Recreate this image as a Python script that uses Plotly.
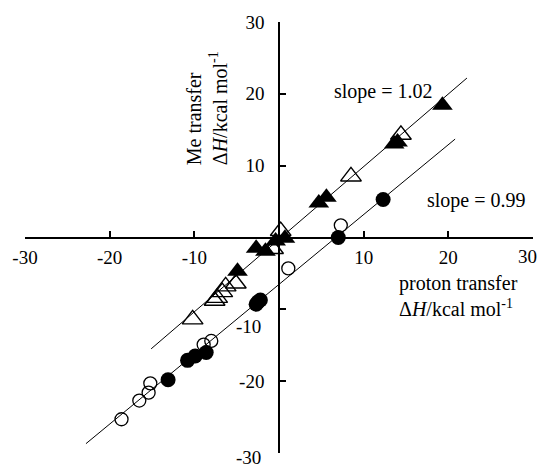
import plotly.graph_objects as go

# ---- data ----
# filled triangles
tri_fill_x = [19.3, 14.0, 13.6, 5.6, 4.7, 0.7, -0.4, -2.7, -1.6, -4.9]
tri_fill_y = [18.4, 13.3, 13.0, 5.6, 4.8, -0.1, -0.5, -1.5, -1.9, -4.7]
# open triangles
tri_open_x = [14.4, 8.5, 0.2, -0.7, -5.1, -6.3, -6.7, -7.3, -7.6, -10.2]
tri_open_y = [14.3, 8.5, 0.9, -1.6, -6.4, -6.8, -7.6, -8.4, -8.8, -11.4]
# filled circles
cir_fill_x = [12.3, 7.0, -2.2, -2.5, -2.7, -8.6, -9.9, -10.8, -13.1]
cir_fill_y = [5.3, 0.0, -8.7, -9.0, -9.3, -16.0, -16.5, -17.1, -19.8]
# open circles
cir_open_x = [7.3, 1.1, -8.0, -8.9, -15.2, -15.4, -16.5, -18.6]
cir_open_y = [1.7, -4.3, -14.4, -14.9, -20.3, -21.6, -22.7, -25.3]
# fitted lines (end points)
fit_upper_x = [-15.1, 22.2]
fit_upper_y = [-15.5, 22.2]
fit_lower_x = [-22.8, 20.8]
fit_lower_y = [-28.7, 13.7]
slope_labels = ["slope = 1.02", "slope = 0.99"]

tick_vals = [-30, -20, -10, 10, 20, 30]
x_tick_text = ["-30", "-20", "-10", "10", "20", " "]
y_tick_text = [" ", "-20", " ", "10", "20", "30"]

FONT = "Liberation Serif"
TICK_SIZE = 19
TEXT_SIZE = 20

fig = go.Figure()
fig.add_trace(go.Scatter(x=fit_upper_x, y=fit_upper_y, mode="lines",
                         line=dict(color="black", width=1)))
fig.add_trace(go.Scatter(x=fit_lower_x, y=fit_lower_y, mode="lines",
                         line=dict(color="black", width=1)))
fig.add_trace(go.Scatter(x=cir_open_x, y=cir_open_y, mode="markers",
                         marker=dict(symbol="circle-open", size=13, color="black",
                                     line=dict(width=1.3, color="black"))))
fig.add_trace(go.Scatter(x=cir_fill_x, y=cir_fill_y, mode="markers",
                         marker=dict(symbol="circle", size=15, color="black")))
fig.add_trace(go.Scatter(x=tri_open_x, y=tri_open_y, mode="markers",
                         marker=dict(symbol="triangle-up-open", size=18, color="black",
                                     line=dict(width=1.4, color="black"))))
fig.add_trace(go.Scatter(x=tri_fill_x, y=tri_fill_y, mode="markers",
                         marker=dict(symbol="triangle-up", size=18, color="black")))

axis_common = dict(range=[-30, 30], anchor="free", position=0.5, showline=True,
                   linecolor="black", linewidth=1.5, ticks="inside", ticklen=6,
                   tickwidth=1.5, tickcolor="black", tickvals=tick_vals,
                   showgrid=False, zeroline=False, ticklabeloverflow="allow",
                   tickfont=dict(family=FONT, size=TICK_SIZE, color="black"))

fig.update_layout(
    width=541, height=470,
    margin=dict(l=25, r=6, t=22, b=7),
    paper_bgcolor="white", plot_bgcolor="white",
    showlegend=False,
    xaxis=dict(**axis_common, ticktext=x_tick_text, ticklabelstandoff=3),
    yaxis=dict(**axis_common, ticktext=y_tick_text, ticklabelstandoff=10),
    font=dict(family=FONT, size=TEXT_SIZE, color="black"),
)

tick_font = dict(family=FONT, size=TICK_SIZE, color="black")
text_font = dict(family=FONT, size=TEXT_SIZE, color="black")
fig.add_annotation(x=29.3, y=-2.7, text="30", xanchor="center", yanchor="middle",
                   showarrow=False, font=tick_font)
fig.add_annotation(x=-3.6, y=-12.4, text="-10", xanchor="center", yanchor="middle",
                   showarrow=False, font=tick_font)
fig.add_annotation(x=-3.6, y=-30, yshift=-4, text="-30", xanchor="center", yanchor="middle",
                   showarrow=False, font=tick_font)
fig.add_annotation(x=12.4, y=20.3, text=slope_labels[0], xanchor="center", yanchor="middle",
                   showarrow=False, font=text_font)
fig.add_annotation(x=23.3, y=5.2, text=slope_labels[1], xanchor="center", yanchor="middle",
                   showarrow=False, font=text_font)
fig.add_annotation(x=13.9, y=-8.2, text="proton transfer<br>Δ<i>H</i>/kcal mol<sup>-1</sup>",
                   xanchor="left", yanchor="middle", align="left", showarrow=False,
                   font=text_font)
fig.add_annotation(x=-8.5, y=18.0, text="Me transfer<br>Δ<i>H</i>/kcal mol<sup>-1</sup>",
                   textangle=-90, xanchor="center", yanchor="middle", align="left",
                   showarrow=False, font=text_font)

fig.write_html("out.html")
